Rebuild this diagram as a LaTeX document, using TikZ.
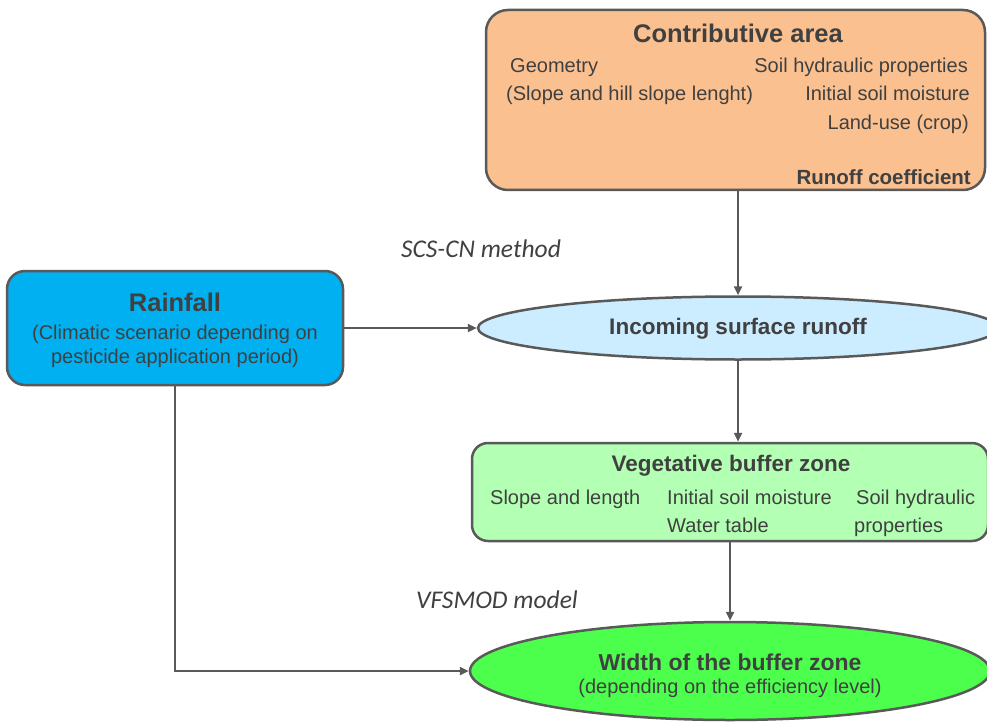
\documentclass[tikz,border=0pt]{standalone}
\usepackage{fontspec}
\setmainfont{Liberation Sans}
\newfontfamily\carlito{Carlito}
\usetikzlibrary{arrows.meta,shapes.geometric,positioning}
\definecolor{txtgray}{HTML}{404040}
\definecolor{linegray}{HTML}{595959}
\definecolor{areaorange}{HTML}{FAC090}
\definecolor{rainblue}{HTML}{00B0F0}
\definecolor{runoffblue}{HTML}{CCECFF}
\definecolor{bufferlight}{HTML}{B3FFB3}
\definecolor{buffergreen}{HTML}{4DFF4D}
\tikzset{
  boxtitle/.style={font=\bfseries\fontsize{25.5}{28}\selectfont},
  boxbold/.style={font=\bfseries\fontsize{20.5}{23}\selectfont},
  boxtext/.style={font=\fontsize{20}{23}\selectfont},
  methodtext/.style={font=\carlito\itshape\fontsize{25.5}{28}\selectfont}
}

\begin{document}
\begin{tikzpicture}[x=1pt,y=-1pt]
\useasboundingbox (0,0) rectangle (987,722);

		\begin{scope}[every node/.style={draw=linegray,line width=2.5pt,inner sep=0pt}]
			\node[rounded corners=22pt,fill=areaorange,minimum width=499pt,minimum height=180pt] (area) at (735.5,100) {};
			\node[rounded corners=18pt,fill=rainblue,minimum width=336pt,minimum height=114pt] (rain) at (175,328) {};
			\node[ellipse,fill=runoffblue,minimum width=520pt,minimum height=63pt] (runoff) at (738,328) {};
			\node[rounded corners=16pt,fill=bufferlight,minimum width=516pt,minimum height=98pt] (buffer) at (730,492) {};
			\node[ellipse,fill=buffergreen,minimum width=520pt,minimum height=98pt] (width) at (730,671) {};
		\end{scope}

		\begin{scope}[every node/.style={text=txtgray,inner sep=0pt}]
			% contributive area
			\node[boxtitle] (areatitle) at (738,33) {Contributive area};
			\node[boxtext,anchor=base west] (geom) at (510,73) {Geometry};
			\node[boxtext,anchor=base west] (slope) at (506,101) {(Slope and hill slope lenght)};
			\node[boxtext,anchor=base east] (soilhyd) at (968,73) {Soil hydraulic properties};
			\node[boxtext,anchor=base east] (moist) at (970,101) {Initial soil moisture};
			\node[boxtext,anchor=base east] (landuse) at (969,130) {Land-use (crop)};
			\node[boxbold,anchor=base east] (coeff) at (971,185) {Runoff coefficient};
			% rainfall
			\node[boxtitle] (raintitle) at (175,302) {Rainfall};
			\node[boxtext] (climate) at (175,334) {(Climatic scenario depending on};
			\node[boxtext] (period) at (175,358) {pesticide application period)};
			% runoff and buffer
			\node[boxbold,font=\bfseries\fontsize{22.5}{25}\selectfont] (runofftitle) at (738,329) {Incoming surface runoff};
			\node[boxbold,font=\bfseries\fontsize{22.5}{25}\selectfont] (buffertitle) at (731,466) {Vegetative buffer zone};
			\node[boxtext,anchor=base west] (vslope) at (490,504) {Slope and length};
			\node[boxtext,anchor=base west] (vmoist) at (667,504) {Initial soil moisture};
			\node[boxtext,anchor=base west] (vtable) at (667,532) {Water table};
			\node[boxtext,anchor=base west] (vsoil) at (856,504) {Soil hydraulic};
			\node[boxtext,anchor=base west] (vprop) at (854,532) {properties};
			\node[boxbold,font=\bfseries\fontsize{23}{25}\selectfont] (widthtitle) at (730,662) {Width of the buffer zone};
			\node[boxtext] (effic) at (730,688) {(depending on the efficiency level)};
			% methods
			\node[methodtext] (scs) at (481,249) {SCS-CN method};
			\node[methodtext] (vfs) at (497,600) {VFSMOD model};
		\end{scope}

		\begin{scope}[>={Triangle[length=9pt,width=8pt]},line width=2.5pt,draw=linegray]
			\draw[->] (area.south -| runoff) -- (runoff.north);
			\draw[->] (rain.east) -- (runoff.west);
			\draw[->] (runoff.south) -- (buffer.north -| runoff);
			\draw[->] (buffer.south) -- (width.north);
			\draw[->] (rain.south) |- (width.west);
		\end{scope}
	\end{tikzpicture}
\end{document}
